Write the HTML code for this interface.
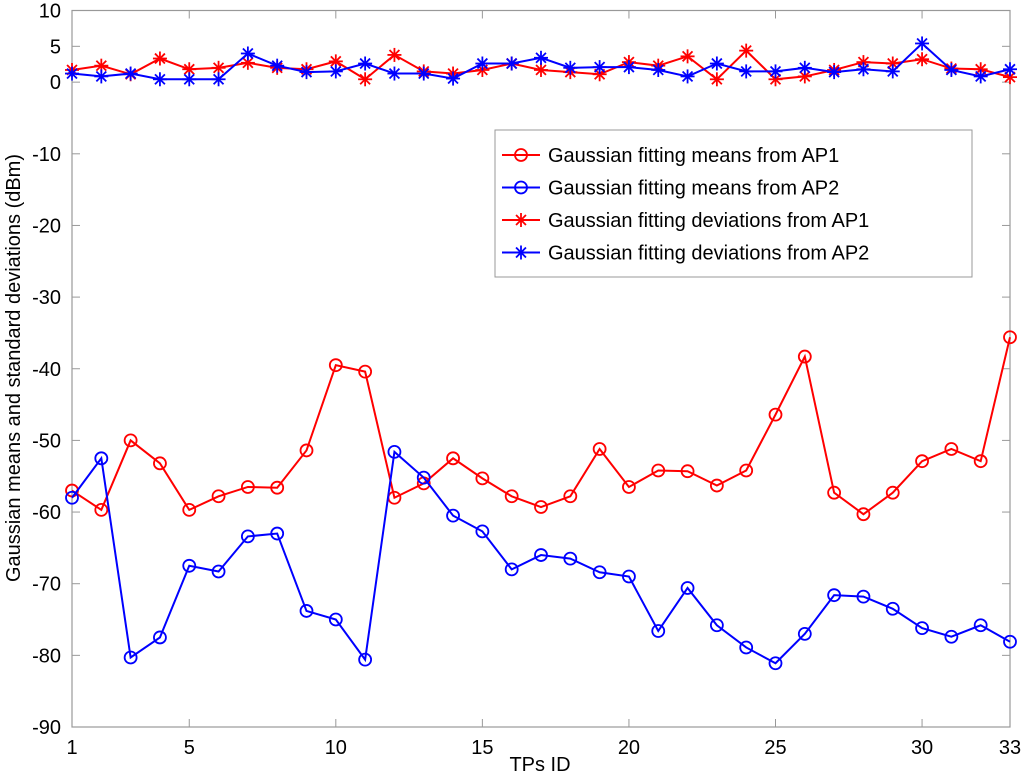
<!DOCTYPE html>
<html><head><meta charset="utf-8"><style>body{margin:0;background:#fff}svg{display:block;font-family:"Liberation Sans",Arial,sans-serif}</style></head>
<body>
<svg id="chart" width="1024" height="775"></svg>
<script>
const xTicks=[1,5,10,15,20,25,30,33];
const yTicks=[10,5,0,-10,-20,-30,-40,-50,-60,-70,-80,-90];
const meanAP1=[-57,-59.7,-50,-53.2,-59.7,-57.8,-56.5,-56.6,-51.4,-39.5,-40.4,-58,-56,-52.5,-55.3,-57.8,-59.3,-57.8,-51.2,-56.5,-54.2,-54.3,-56.3,-54.2,-46.4,-38.3,-57.3,-60.3,-57.3,-52.9,-51.2,-52.9,-35.6];
const meanAP2=[-58,-52.5,-80.3,-77.5,-67.5,-68.3,-63.4,-63,-73.8,-75,-80.6,-51.6,-55.2,-60.5,-62.7,-68,-66,-66.5,-68.4,-69,-76.6,-70.6,-75.8,-78.9,-81.1,-77,-71.6,-71.8,-73.5,-76.2,-77.4,-75.8,-78.1];
const devAP1=[1.7,2.3,1.1,3.3,1.8,2.0,2.7,2.0,1.8,2.9,0.4,3.8,1.5,1.2,1.7,2.6,1.7,1.4,1.1,2.8,2.3,3.6,0.4,4.4,0.4,0.8,1.7,2.8,2.6,3.2,1.9,1.8,0.7];
const devAP2=[1.2,0.8,1.2,0.4,0.4,0.4,4.0,2.3,1.4,1.5,2.6,1.2,1.2,0.5,2.6,2.6,3.4,2.0,2.1,2.1,1.7,0.8,2.6,1.5,1.5,2.0,1.4,1.8,1.5,5.4,1.7,0.8,1.8];
const L=72,R=1010,T=10.5,B=727;
const X=v=>L+(v-1)/32*(R-L);
const Y=v=>T+(10-v)/100*(B-T);
const svg=document.getElementById('chart');const NS='http://www.w3.org/2000/svg';
function mk(t,a,p){const e=document.createElementNS(NS,t);for(const k in a)e.setAttribute(k,a[k]);(p||svg).appendChild(e);return e;}
let e=mk('rect',{x:L,y:T,width:R-L,height:B-T,fill:'none',stroke:'#999','stroke-width':1.2});


xTicks.forEach(t=>{mk('line',{x1:X(t),x2:X(t),y1:B,y2:B-8,stroke:'#999'});mk('line',{x1:X(t),x2:X(t),y1:T,y2:T+8,stroke:'#999'});
 const tx=mk('text',{x:X(t),y:B+27,'text-anchor':'middle','font-size':20});tx.textContent=t;
 
 });
yTicks.forEach(t=>{mk('line',{x1:L,x2:L+8,y1:Y(t),y2:Y(t),stroke:'#999'});mk('line',{x1:R,x2:R-8,y1:Y(t),y2:Y(t),stroke:'#999'});
 const tx=mk('text',{x:L-11,y:Y(t)+7,'text-anchor':'end','font-size':20});tx.textContent=t;
 
 });
e=mk('text',{x:540,y:771,'text-anchor':'middle','font-size':20});e.textContent='TPs ID';


e=mk('text',{x:0,y:0,'text-anchor':'middle','font-size':20,transform:'translate(20,368) rotate(-90)'});e.textContent='Gaussian means and standard deviations (dBm)';


function star(g,x,y,c){for(let a=0;a<4;a++){const r=a*Math.PI/4;mk('line',{x1:x-7*Math.cos(r),y1:y-7*Math.sin(r),x2:x+7*Math.cos(r),y2:y+7*Math.sin(r),stroke:c,'stroke-width':1.8},g);}}
function series(vals,c,m,name){const g=mk('g',{});
 mk('polyline',{points:vals.map((v,i)=>X(i+1)+','+Y(v)).join(' '),fill:'none',stroke:c,'stroke-width':2},g);
 vals.forEach((v,i)=>{if(m==='o')mk('circle',{cx:X(i+1),cy:Y(v),r:6,fill:'none',stroke:c,'stroke-width':1.8},g);else star(g,X(i+1),Y(v),c);});}
series(meanAP1,'#f00','o','series-mean-ap1');
series(meanAP2,'#00f','o','series-mean-ap2');
series(devAP1,'#f00','*','series-dev-ap1');
series(devAP2,'#00f','*','series-dev-ap2');
const lg=mk('g',{});
mk('rect',{x:495,y:130,width:477,height:147,fill:'#fff',stroke:'#999'},lg);
const labs=['Gaussian fitting means from AP1','Gaussian fitting means from AP2','Gaussian fitting deviations from AP1','Gaussian fitting deviations from AP2'];
const cols=['#f00','#00f','#f00','#00f'];
labs.forEach((s,i)=>{const y=155+i*32.5;mk('line',{x1:502,x2:540,y1:y,y2:y,stroke:cols[i],'stroke-width':2},lg);
 if(i<2)mk('circle',{cx:521,cy:y,r:6,fill:'none',stroke:cols[i],'stroke-width':1.8},lg);else star(lg,521,y,cols[i]);
 const t=mk('text',{x:548,y:y+7,'font-size':20},lg);t.textContent=s;
 
 });
</script>
</body></html>
